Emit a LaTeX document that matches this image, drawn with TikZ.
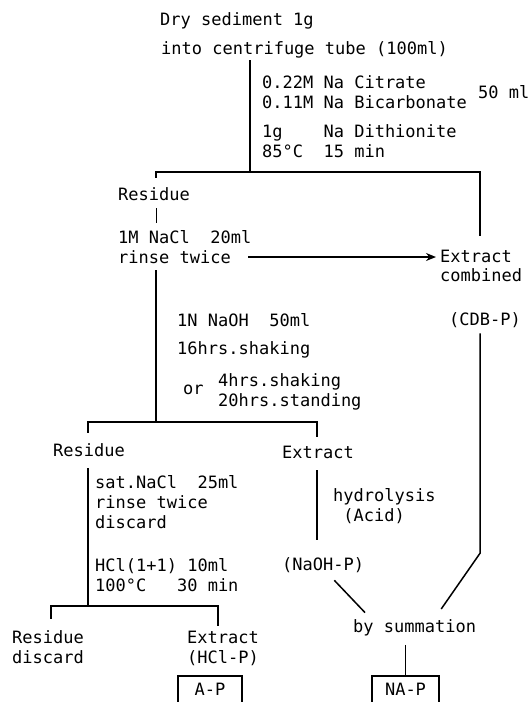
\documentclass[tikz,border=0pt]{standalone}
\usepackage{fontspec}
\newfontfamily\typew{DejaVu Sans Mono}
\usetikzlibrary{arrows.meta,calc}

\begin{document}
\begin{tikzpicture}[x=1pt,y=-1pt,
    txt/.style={anchor=west, inner sep=0pt, align=left, font=\typew\fontsize{17}{20}\selectfont},
    flow/.style={line width=1.5pt},
    tag/.style={draw, line width=1.5pt, inner sep=0pt, minimum width=64pt, minimum height=34pt,
        text depth=7pt, anchor=north, font=\typew\fontsize{17}{20}\selectfont}]
    \clip (0,0) rectangle (530,702);
    % spine columns
    \coordinate (lx) at (156,0);
    \coordinate (rx) at (480,0);
    \coordinate (mx) at (88,0);
    \coordinate (ex) at (317,0);
    \coordinate (lx3) at (51,0);
    \coordinate (rx3) at (218,0);

    % sample
    \node[txt] (dry) at (160,21) {Dry sediment 1g};
    \node[txt] (tube) at (161,50) {into centrifuge tube (100ml)};

    % CDB extraction
    \node[txt] (cit) at (262,92) {0.22M Na Citrate\\0.11M Na Bicarbonate};
    \node[txt] (vol) at (478,92) {50 ml};
    \node[txt] (dith) at (262,141) {1g~~~~Na Dithionite\\85°C~~15 min};
    \coordinate (j1) at (250,172);
    \draw[flow] ([yshift=-1.5pt]tube.south -| j1) -- (j1);

    \node[txt] (res1) at (118,194) {Residue};
    \node[txt] (ext1) at (440,256) {Extract};
    \node[txt] (comb) at (440,275) {combined};
    \node[txt] (cdb) at (449,320) {(CDB-P)};
    \draw[flow] ([yshift=9.5pt]res1.north -| lx) |- (j1) -| ([yshift=13.5pt]ext1.north -| rx);

    % rinse with NaCl
    \node[txt] (nacl) at (118,237) {1M NaCl~~20ml};
    \node[txt] (rinse1) at (118,257) {rinse twice};
    \draw[line width=1pt] ([yshift=-7.5pt]res1.south -| lx) -- ([yshift=7.5pt]nacl.north -| lx);
    \draw[flow,-{Stealth[length=10pt,width=8pt]}, shorten <=17.5pt, shorten >=4pt] (rinse1.east) -- (rinse1.east -| ext1.west);

    % NaOH extraction
    \node[txt] (naoh) at (177,320) {1N NaOH~~50ml};
    \node[txt] (shake) at (177,350) {16hrs.shaking};
    \node[txt] (or) at (183,390) {or};
    \node[txt] (alt) at (218,392) {4hrs.shaking\\20hrs.standing};
    \coordinate (j2) at (156,422);
    \draw[flow] ([yshift=-6.5pt]rinse1.south -| lx) -- (j2);

    \node[txt] (res2) at (53,450) {Residue};
    \node[txt] (ext2) at (282,452) {Extract};
    \draw[flow] ([yshift=10.5pt]res2.north -| mx) |- (j2) -| ([yshift=8.5pt]ext2.north -| ex);

    % HCl extraction
    \node[txt] (satn) at (95,502) {sat.NaCl~~25ml\\rinse twice\\discard};
    \node[txt] (hcl) at (95,575) {HCl(1+1)~10ml\\100°C~~~30~min};
    \coordinate (j3) at (88,606);
    \draw[flow] ([yshift=-11.5pt]res2.south -| mx) -- (j3);

    \node[txt] (res3) at (12,647) {Residue\\discard};
    \node[txt] (ext3) at (187,648) {Extract\\(HCl-P)};
    \draw[flow] ([yshift=11.3pt]res3.north -| lx3) |- (j3) -| ([yshift=4.3pt]ext3.north -| rx3);
    \node[tag] (ap) at (210,675) {A-P};

    % hydrolysis and summation
    \node[txt] (hyd) at (333,506) {hydrolysis\\\phantom{h}(Acid)};
    \node[txt] (naohp) at (282,565) {(NaOH-P)};
    \draw[flow] ([yshift=-11.5pt]ext2.south -| ex) -- ([yshift=17.5pt]naohp.north -| ex);

    \node[txt] (sum) at (353,628) {by summation};
    \node[tag, minimum width=67pt] (nap) at (405.5,675) {NA-P};
    \draw[flow] ([shift={(-30pt,-7.5pt)}]naohp.south east) -- ([shift={(12pt,7pt)}]sum.north west);
    \draw[flow] ([yshift=-5.5pt]cdb.south -| rx) -- ++(0,220) -- ([shift={(-35pt,10.6pt)}]sum.north east);
    \draw[flow] ([yshift=-8.5pt]sum.south -| nap.north) -- (nap.north);
\end{tikzpicture}
\end{document}
